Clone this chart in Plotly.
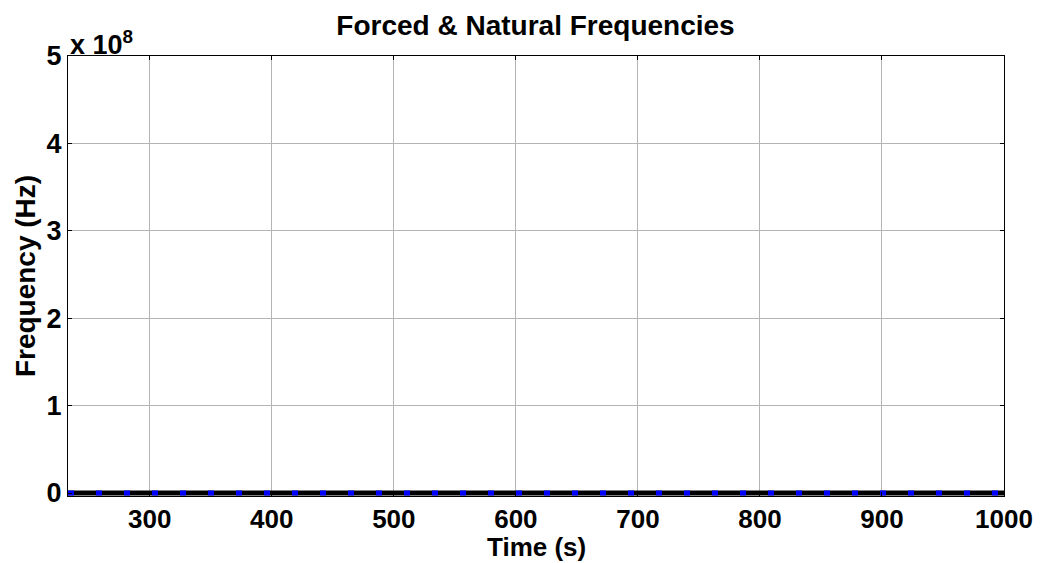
import plotly.graph_objects as go

# Data (frequencies in Hz, essentially zero on a 1e8 scale)
time_s = [233, 300, 400, 500, 600, 700, 800, 900, 1000]
forced_freq = [0, 0, 0, 0, 0, 0, 0, 0, 0]
natural_freq = [0, 0, 0, 0, 0, 0, 0, 0, 0]
x_ticks = [300, 400, 500, 600, 700, 800, 900, 1000]
y_ticks = [0, 1e8, 2e8, 3e8, 4e8, 5e8]
y_tick_labels = ["0", "1", "2", "3", "4", "5"]

FONT = "Liberation Sans, Arial, sans-serif"

fig = go.Figure()
fig.add_trace(go.Scatter(x=time_s, y=natural_freq, mode="lines",
                         line=dict(color="black", width=5), name="Natural"))
fig.add_trace(go.Scatter(x=time_s, y=forced_freq, mode="lines",
                         line=dict(color="#0000ff", width=5, dash="6px,22px"), name="Forced"))

axis_common = dict(showline=True, linecolor="black", linewidth=1, mirror="ticks",
                   ticks="inside", ticklen=4, tickcolor="black", automargin=False,
                   showgrid=True, gridcolor="#b4b4b4", gridwidth=1, zeroline=False)

fig.update_layout(
    width=1050, height=563,
    margin=dict(l=68, r=46, t=56, b=67),
    paper_bgcolor="white", plot_bgcolor="white",
    showlegend=False,
    title=dict(text="Forced & Natural Frequencies", x=0.51, xanchor="center",
               y=0.956, yanchor="middle", automargin=False,
               font=dict(family=FONT, size=28, color="black", weight="bold")),
    xaxis=dict(range=[233, 1000], tickvals=x_ticks, **axis_common,
               tickfont=dict(family=FONT, size=26, color="black", weight="bold")),
    yaxis=dict(range=[-3.4e6, 5e8], tickvals=y_ticks, ticktext=y_tick_labels, **axis_common,
               tickfont=dict(family=FONT, size=27, color="black", weight="bold"),
               title=dict(text="Frequency (Hz)", standoff=2,
                          font=dict(family=FONT, size=28, color="black", weight="bold"))),
)

# x-axis title as annotation for precise placement
fig.add_annotation(text="Time (s)", xref="paper", yref="paper",
                   x=0.5, y=0.0, xanchor="center", yanchor="middle", showarrow=False,
                   yshift=-51,
                   font=dict(family=FONT, size=26, color="black", weight="bold"))

fig.add_annotation(text="x 10<sup>8</sup>", xref="paper", yref="paper",
                   x=0.0, y=1.0, xanchor="left", yanchor="bottom", showarrow=False,
                   yshift=-6,
                   font=dict(family=FONT, size=27, color="black", weight="bold"))

fig.write_html("out.html")
